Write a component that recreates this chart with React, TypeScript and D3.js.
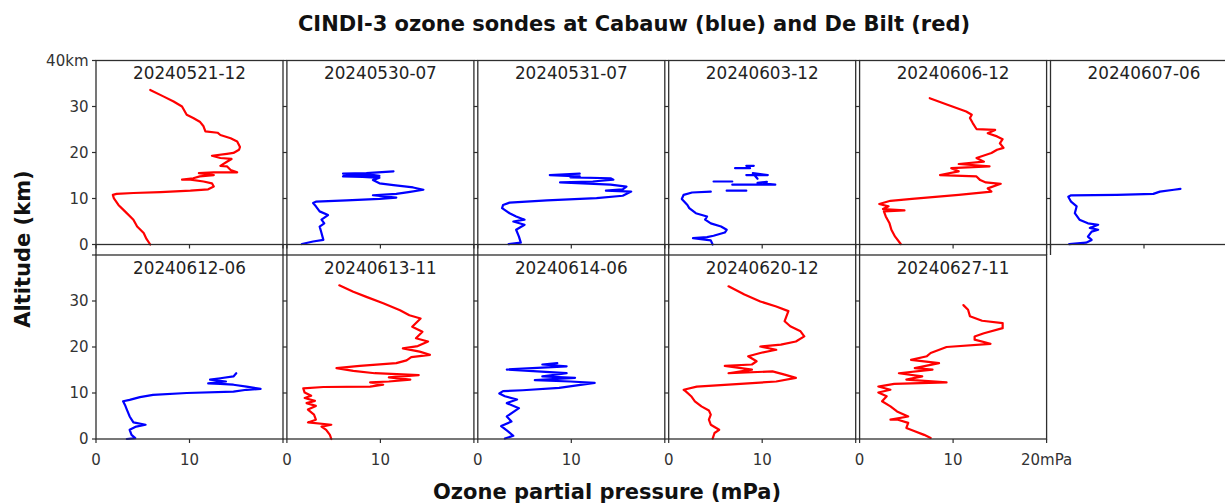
import React from "react";
import * as d3 from "d3";

type P = [number, number] | null; // [ozone mPa, altitude km]

// ---- data (ozone partial pressure mPa, altitude km) ----
const s20240521_12: P[] = [[5.8,0],[5.4,1.2],[5.1,2.5],[4.4,3.9],[4.0,5.4],[3.1,7.2],[2.4,8.6],[1.9,10.1],[1.8,10.8],[2.2,11.0],[4.0,11.2],[6.9,11.4],[10.1,11.7],[12.0,12.0],[12.6,12.6],[12.4,13.3],[11.5,13.7],[10.1,14.1],[9.2,14.1],[10.4,14.4],[11.1,14.8],[12.6,15.1],[11.0,15.5],[12.6,15.7],[15.1,15.7],[14.4,16.2],[14.0,17.0],[13.3,17.1],[14.0,18.0],[14.5,18.6],[13.3,18.8],[12.4,19.3],[14.0,19.7],[14.7,19.9],[15.3,20.6],[15.4,21.2],[15.1,22.4],[14.4,23.1],[13.3,23.8],[13.0,24.3],[11.7,24.6],[11.5,25.7],[11.1,26.7],[10.4,27.5],[9.7,28.2],[9.2,30.0],[8.3,31.1],[7.2,32.2],[5.8,33.6]];
const s20240530_07: P[] = [[1.6,0.1],[2.8,0.65],[3.9,1.0],[3.7,2.5],[3.5,3.9],[4.0,4.6],[3.7,5.4],[4.4,6.4],[3.5,7.2],[3.1,8.3],[2.8,9.0],[3.1,9.3],[6.4,9.6],[9.9,9.9],[11.7,10.2],[9.2,10.7],[11.7,11.0],[13.0,11.4],[14.6,11.9],[13.5,12.4],[11.4,12.9],[9.9,13.3],[9.2,14.0],[9.9,14.5],[8.1,14.7],[6.0,14.8],[6.2,15.1],[8.9,15.2],[9.9,14.9],[6.0,15.4],[8.5,15.5],[11.4,15.9]];
const s20240531_07: P[] = [[3.3,0.1],[4.6,0.4],[4.4,1.7],[4.1,3.2],[5.0,4.3],[3.8,5.0],[5.0,5.4],[4.1,6.1],[3.4,6.8],[2.6,7.9],[2.7,8.6],[3.4,9.1],[7.4,9.6],[12.7,10.1],[15.5,10.6],[16.4,11.5],[13.7,11.7],[15.5,12.0],[15.9,12.6],[14.2,13.0],[8.8,13.5],[12.3,13.7],[14.5,14.1],[14.2,14.4],[9.9,14.6],[10.9,14.8],[7.7,15.1],[10.9,15.4]];
const s20240603_12: P[] = [[4.7,0],[4.5,0.9],[2.6,1.4],[4.1,1.6],[4.8,1.9],[6.0,2.6],[6.2,3.2],[5.6,3.9],[4.5,4.6],[3.9,5.4],[4.1,6.1],[2.9,6.8],[2.2,7.9],[2.0,8.6],[1.4,9.9],[1.6,10.8],[2.5,11.3],[4.5,11.5],null,[6.2,11.7],[8.3,11.7],null,[6.8,13.0],[11.4,13.0],[9.5,13.4],[10.5,13.6],null,[4.8,13.7],[6.8,13.7],null,[8.3,15.1],[10.6,15.1],[9.0,15.5],[9.5,14.3],null,[7.1,16.6],[8.7,16.6],null,[8.3,17.1],[9.1,17.1]];
const s20240606_12: P[] = [[4.4,0.1],[3.8,1.7],[3.4,3.2],[3.2,4.6],[2.8,6.1],[2.6,7.2],[4.8,7.4],[2.5,7.7],[3.1,8.3],[2.1,8.8],[3.3,9.5],[5.6,9.9],[10.6,10.8],[14.1,11.5],[13.7,12.2],[15.1,13.2],[13.5,13.5],[12.9,14.0],[12.5,14.8],[8.6,15.1],[10.6,15.9],[9.8,16.6],[13.9,17.0],[10.6,17.5],[13.3,18.0],[12.5,18.8],[14.1,19.9],[14.7,20.6],[15.4,21.0],[15.0,22.0],[15.3,22.9],[14.7,23.5],[13.7,24.2],[14.5,24.9],[12.5,25.1],[12.1,26.4],[11.8,27.5],[12.0,28.2],[11.4,28.9],[9.4,30.4],[7.5,31.8]];
const s20240607_06: P[] = [[2.0,0.1],[3.8,0.4],[4.4,1.0],[4.0,1.7],[4.4,2.8],[5.1,3.2],[4.2,3.6],[5.1,4.3],[4.0,4.6],[3.1,5.4],[2.6,6.8],[2.8,8.3],[2.2,9.3],[1.9,10.4],[2.2,10.7],[7.1,10.8],[11.0,11.0],[11.7,11.5],[13.2,11.9],[13.9,12.1]];
const s20240612_06: P[] = [[3.3,0],[4.2,0.2],[3.8,0.9],[3.6,2.0],[4.3,2.7],[5.3,3.1],[4.0,3.6],[3.6,4.9],[3.3,6.4],[3.1,7.4],[2.9,8.2],[3.6,8.5],[4.7,9.1],[6.1,9.6],[9.7,10.0],[14.7,10.3],[16.1,10.7],[17.6,10.9],[16.1,11.4],[14.7,11.8],[13.3,12.0],[12.0,12.1],[13.9,12.5],[12.2,12.9],[13.3,13.2],[14.7,13.6],[15.0,14.3]];
const s20240613_11: P[] = [[4.75,0],[4.6,0.9],[4.2,2.0],[3.7,2.7],[4.75,3.1],[2.25,3.6],[3.1,4.2],[2.9,5.3],[2.25,6.4],[3.1,7.2],[2.1,7.8],[3.0,8.3],[1.9,8.9],[2.6,9.4],[1.9,10.1],[1.75,11.0],[3.9,11.3],[8.9,11.4],[10.3,11.8],[8.9,12.3],[10.9,12.5],[13.2,12.9],[10.9,13.4],[14.1,13.9],[9.4,14.3],[7.1,14.8],[5.3,15.4],[7.8,15.9],[11.7,16.5],[12.8,17.1],[13.3,17.8],[15.3,18.3],[14.2,19.0],[12.4,19.7],[14.0,20.2],[15.1,21.2],[13.8,21.9],[14.5,23.3],[13.4,24.4],[14.3,26.2],[13.1,26.9],[12.1,28.0],[10.3,29.5],[8.5,30.9],[7.1,32.0],[5.6,33.4]];
const s20240614_06: P[] = [[2.9,0.1],[3.8,0.7],[3.2,1.7],[2.5,2.8],[3.6,3.8],[3.1,4.9],[4.4,6.7],[3.1,7.8],[4.2,8.6],[2.9,9.3],[2.3,9.9],[2.7,10.4],[4.8,10.6],[8.7,11.1],[12.5,12.2],[9.9,12.5],[6.1,12.8],[10.4,13.3],[6.9,13.6],[9.5,14.3],[3.1,15.1],[9.5,15.8],[6.9,16.2],[8.5,16.5]];
const s20240620_12: P[] = [[4.7,0.1],[4.9,1.3],[5.4,2.0],[4.5,3.1],[4.3,4.2],[4.5,5.3],[4.3,6.2],[3.5,7.1],[2.8,8.2],[2.4,9.3],[1.8,10.4],[1.6,10.7],[3.0,11.4],[6.4,11.8],[11.5,12.5],[13.6,13.3],[12.4,14.0],[11.1,14.7],[6.4,14.3],[8.9,15.1],[6.0,15.9],[8.9,16.2],[9.4,16.9],[8.5,18.0],[9.8,18.7],[11.5,19.4],[9.8,20.1],[12.0,20.5],[13.6,21.2],[14.5,22.3],[14.1,23.4],[13.0,24.5],[12.4,25.6],[12.8,27.8],[11.5,28.8],[9.8,29.9],[8.1,31.4],[6.4,33.2]];
const s20240627_11: P[] = [[7.6,0.2],[6.9,0.9],[5.9,1.7],[5.0,2.4],[5.2,3.5],[4.1,4.2],[3.3,4.2],[5.2,4.9],[4.0,6.0],[3.3,7.1],[2.4,8.2],[2.9,9.3],[2.0,10.1],[3.3,10.7],[2.0,11.4],[3.7,12.0],[9.3,12.3],[5.0,12.9],[6.7,13.6],[4.2,14.3],[7.8,15.1],[5.9,15.4],[8.5,16.5],[5.5,17.2],[7.2,18.0],[7.6,18.7],[9.3,20.0],[14.0,20.7],[12.3,21.6],[12.3,22.3],[13.3,23.0],[15.3,24.1],[15.3,25.2],[13.1,25.7],[11.8,26.7],[11.6,28.1],[11.1,29.1]];

const sondeLabels = ["20240521-12","20240530-07","20240531-07","20240603-12","20240606-12","20240607-06","20240612-06","20240613-11","20240614-06","20240620-12","20240627-11"];
const sondeSeries = [s20240521_12,s20240530_07,s20240531_07,s20240603_12,s20240606_12,s20240607_06,s20240612_06,s20240613_11,s20240614_06,s20240620_12,s20240627_11];
const sondeSite = ["De Bilt","Cabauw","Cabauw","Cabauw","De Bilt","Cabauw","Cabauw","De Bilt","Cabauw","De Bilt","De Bilt"];
const siteColor: Record<string,string> = { Cabauw: "#0000ff", "De Bilt": "#ff0000" };

const altTicks = [0, 10, 20, 30, 40];
const ozoneTicks = [0, 10, 20];

// ---- layout ----
const W = 1225, H = 504;
const PW = 187, PH = 184;
const colLeft = (c: number) => 96 + c * 190.9;
const rowTop = [60.5, 255];
const AX = "#2e2e2e";
const TICK_TXT = "#333";

export default function App() {
  const x = d3.scaleLinear().domain([0, 20]).range([0, PW]);
  const y = d3.scaleLinear().domain([0, 40]).range([PH, 0]);
  const line = d3.line<P>()
    .defined((d) => d !== null)
    .x((d) => x((d as [number, number])[0]))
    .y((d) => y((d as [number, number])[1]));

  const panels = sondeLabels.map((label, i) => ({
    label,
    data: sondeSeries[i],
    color: siteColor[sondeSite[i]],
    row: i < 6 ? 0 : 1,
    col: i < 6 ? i : i - 6,
  }));

  return (
    <svg width={W} height={H} style={{ position: "absolute", left: 0, top: 0, background: "#fff" }}
      fontFamily="'DejaVu Sans', sans-serif">
      <defs>
        <clipPath id="page"><rect x={0} y={0} width={W} height={H} /></clipPath>
      </defs>
      <text x={634} y={30.5} textAnchor="middle" fontSize={21} fontWeight="bold" fill="#111">
        CINDI-3 ozone sondes at Cabauw (blue) and De Bilt (red)
      </text>
      <text x={607} y={499} textAnchor="middle" fontSize={21} fontWeight="bold" fill="#111">
        Ozone partial pressure (mPa)
      </text>
      <text transform="translate(30,249) rotate(-90)" textAnchor="middle" fontSize={21} fontWeight="bold" fill="#111">
        Altitude (km)
      </text>

      <g clipPath="url(#page)">
        {panels.map((p, i) => {
          const left = colLeft(p.col);
          const top = rowTop[p.row];
          return (
            <g key={i} transform={`translate(${left},${top})`}>
              {/* gap extension for top row vertical borders */}
              {p.row === 0 && (
                <g stroke={AX} strokeWidth={1.3}>
                  <line x1={0} x2={0} y1={PH} y2={rowTop[1] - top} />
                  {p.col < 5 && <line x1={PW} x2={PW} y1={PH} y2={rowTop[1] - top} />}
                </g>
              )}
              <path d={line(p.data) || ""} fill="none" stroke={p.color} strokeWidth={2.2}
                strokeLinejoin="round" strokeLinecap="round" />
              <rect x={0} y={0} width={PW} height={PH} fill="none" stroke={AX} strokeWidth={1.3} />
              {altTicks.map((t) => (
                <line key={"yt" + t} x1={-4} x2={0} y1={y(t)} y2={y(t)} stroke={AX} strokeWidth={1.2} />
              ))}
              {ozoneTicks.map((t) => (
                <line key={"xt" + t} x1={x(t)} x2={x(t)} y1={PH} y2={PH + 4} stroke={AX} strokeWidth={1.2} />
              ))}
              <text x={PW / 2} y={18.5} textAnchor="middle" fontSize={16.8} fill="#222">{p.label}</text>
              {p.col === 0 && altTicks.filter((t) => t < 40 || p.row === 0).map((t) => (
                <text key={"yl" + t} x={-7.5} y={y(t)} dy="0.36em" textAnchor="end" fontSize={15} fill={TICK_TXT}>
                  {t === 40 ? "40km" : String(t)}
                </text>
              ))}
              {p.row === 1 && ozoneTicks.filter((t) => t < 20 || i === panels.length - 1).map((t) => (
                <text key={"xl" + t} x={x(t)} y={PH + 26} textAnchor="middle" fontSize={15} fill={TICK_TXT}>
                  {t === 20 ? "20mPa" : String(t)}
                </text>
              ))}
            </g>
          );
        })}
      </g>
    </svg>
  );
}
